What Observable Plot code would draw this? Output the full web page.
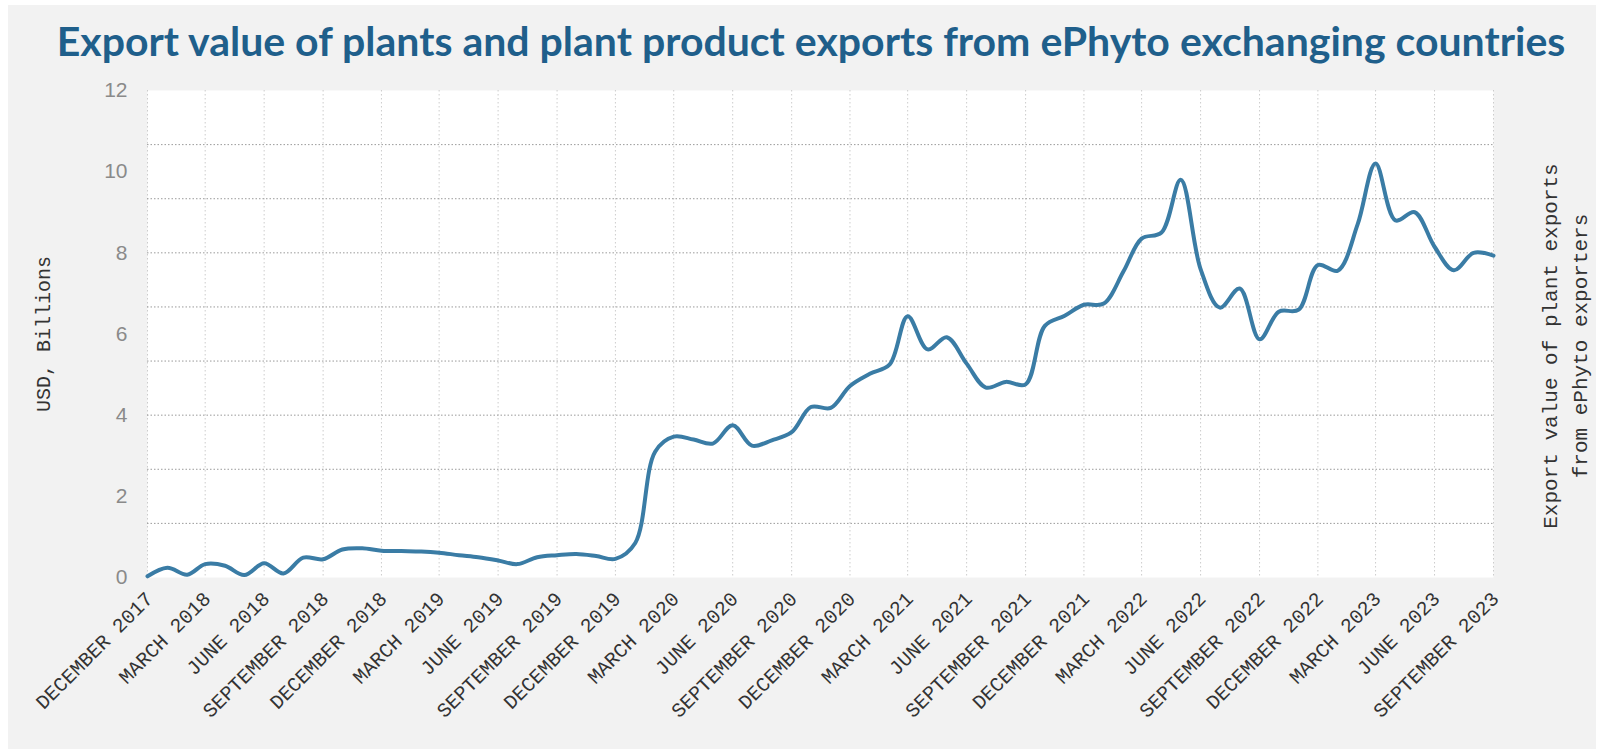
<!DOCTYPE html>
<html>
<head>
<meta charset="utf-8">
<script src="https://cdn.jsdelivr.net/npm/d3@7"></script>
<script src="https://cdn.jsdelivr.net/npm/@observablehq/plot@0.6"></script>
<style>
  html, body { margin: 0; padding: 0; background: #ffffff; }
  #wrap { position: relative; width: 1604px; height: 754px; overflow: hidden; }
  #panel { position: absolute; left: 8px; top: 5px; right: 8px; bottom: 5px; background: #f2f2f2; }
  #title { position: absolute; left: 9px; top: 14px; width: 1604px; text-align: center;
           font-family: Lato, "Open Sans", sans-serif; font-weight: 700; font-size: 41px;
           line-height: 54px; color: #1f5f8b; white-space: nowrap; }
  #chart { position: absolute; left: 0; top: 80px; }
</style>
</head>
<body>
<div id="wrap">
  <div id="panel"></div>
  <div id="title">Export value of plants and plant product exports from ePhyto exchanging countries</div>
  <div id="chart"></div>
</div>
<script>
// ---- data (monthly, USD billions), Dec 2017 .. Sep 2023 ----
const startMonth = "2017-12";
const values = [
  0.03, 0.24, 0.07, 0.33, 0.29, 0.06, 0.35, 0.10, 0.49, 0.45, 0.69, 0.72,
  0.66, 0.65, 0.64, 0.61, 0.55, 0.50, 0.42, 0.33, 0.50, 0.55, 0.58, 0.53,
  0.46, 0.85, 3.10, 3.47, 3.40, 3.30, 3.75, 3.25, 3.38, 3.58, 4.20, 4.18,
  4.72, 5.02, 5.25, 6.44, 5.62, 5.92, 5.27, 4.68, 4.82, 4.76, 6.20, 6.45,
  6.72, 6.75, 7.55, 8.35, 8.50, 9.80, 7.60, 6.65, 7.12, 5.87, 6.55, 6.60,
  7.70, 7.56, 8.70, 10.20, 8.80, 9.00, 8.15, 7.57, 8.00, 7.93
];
const xTickLabels = [
  "DECEMBER 2017", "MARCH 2018", "JUNE 2018", "SEPTEMBER 2018",
  "DECEMBER 2018", "MARCH 2019", "JUNE 2019", "SEPTEMBER 2019",
  "DECEMBER 2019", "MARCH 2020", "JUNE 2020", "SEPTEMBER 2020",
  "DECEMBER 2020", "MARCH 2021", "JUNE 2021", "SEPTEMBER 2021",
  "DECEMBER 2021", "MARCH 2022", "JUNE 2022", "SEPTEMBER 2022",
  "DECEMBER 2022", "MARCH 2023", "JUNE 2023", "SEPTEMBER 2023"
];
const yTicks = [0, 2, 4, 6, 8, 10, 12];
const yMax = 12;
// secondary (right) axis: 9 divisions, only its grid is drawn
const rightAxisMax = 9;
const rightGridTicks = [1, 2, 3, 4, 5, 6, 7, 8];

const leftTitle = "USD, Billions";
const rightTitle = "Export value of plant exports\nfrom ePhyto exporters";

// ---- build ----
const parseMonth = d3.utcParse("%Y-%m");
const start = parseMonth(startMonth);
const data = values.map((v, i) => ({ date: d3.utcMonth.offset(start, i), value: v }));
const monthNames = ["JANUARY","FEBRUARY","MARCH","APRIL","MAY","JUNE","JULY","AUGUST","SEPTEMBER","OCTOBER","NOVEMBER","DECEMBER"];
const parseLabel = s => { const [m, y] = s.split(" "); return new Date(Date.UTC(+y, monthNames.indexOf(m), 1)); };
const xTicks = xTickLabels.map(parseLabel);
const labelOf = new Map(xTicks.map((d, i) => [+d, xTickLabels[i]]));

const mono = "'Liberation Mono', 'DejaVu Sans Mono', monospace";
const sans = "'Liberation Sans', Arial, sans-serif";

const chart = Plot.plot({
  width: 1604,
  height: 674,
  marginLeft: 147,
  marginRight: 111,
  marginTop: 10,
  marginBottom: 177,
  style: { background: "transparent", fontFamily: mono, overflow: "visible" },
  x: { type: "utc", domain: [xTicks[0], xTicks[xTicks.length - 1]] },
  y: { domain: [0, yMax] },
  marks: [
    Plot.frame({ fill: "white", stroke: null }),
    Plot.ruleX(xTicks, { stroke: "#cccccc", strokeWidth: 1, strokeDasharray: "1.5,2.5" }),
    Plot.ruleY(rightGridTicks, { y: d => d * yMax / rightAxisMax, stroke: "#9a9a9a", strokeWidth: 1, strokeDasharray: "1.5,2" }),
    Plot.axisY({ ticks: yTicks, tickSize: 0, tickPadding: 20, fontSize: 21, color: "#8a8a8a", label: null, fontFamily: sans }),
    Plot.axisX({ ticks: xTicks, tickFormat: d => labelOf.get(+d), tickRotate: -45, tickSize: 0, tickPadding: 18, dx: 2,
                 fontSize: 20, color: "#333", label: null, fontFamily: mono }),
    Plot.line(data, { x: "date", y: "value", curve: "catmull-rom", stroke: "#3a7ca5", strokeWidth: 4, strokeLinejoin: "round", strokeLinecap: "round" }),
    Plot.text([leftTitle], { text: d => d, frameAnchor: "left", textAnchor: "middle", rotate: -90, dx: -104, fontSize: 20, fill: "#333", fontFamily: mono }),
    Plot.text([rightTitle], { text: d => d, frameAnchor: "right", textAnchor: "middle", lineAnchor: "middle", rotate: -90, dx: 69, dy: 12, fontSize: 21, lineHeight: 1.45, fill: "#333", fontFamily: mono })
  ]
});
document.getElementById("chart").appendChild(chart);
</script>
</body>
</html>
